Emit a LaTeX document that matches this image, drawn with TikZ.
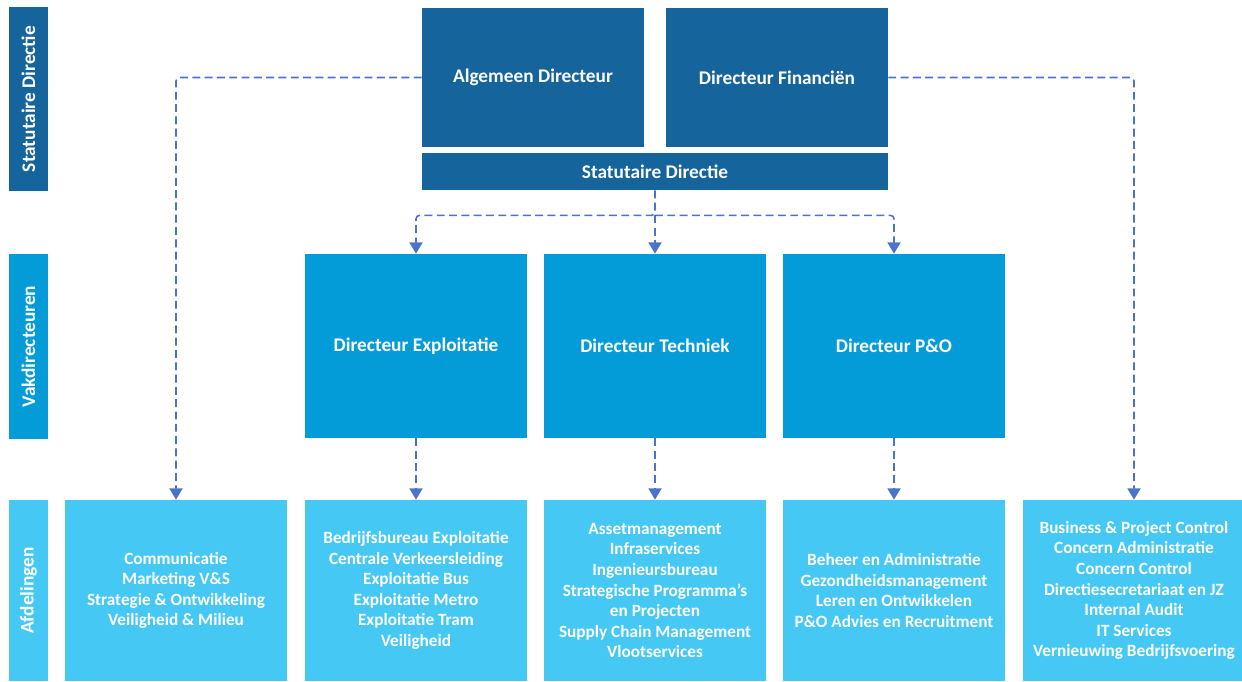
\documentclass[tikz,border=0pt]{standalone}
\usepackage{fontspec}
\setmainfont{Carlito}
\usetikzlibrary{arrows.meta,calc}
\definecolor{statblue}{HTML}{15649B}
\definecolor{vakblue}{HTML}{049CD8}
\definecolor{afdblue}{HTML}{46C8F5}
\definecolor{link}{HTML}{4A74C9}
\tikzset{
  >={Triangle[length=6.5pt,width=7.5pt]},
  box/.style={draw=none, text=white, font=\bfseries\fontsize{11}{13.4}\selectfont,
    align=center, inner sep=0pt, minimum width=4.44cm},
  statbox/.style={box, fill=statblue},
  vakbox/.style={box, fill=vakblue, minimum height=3.68cm},
  afdbox/.style={box, fill=afdblue, minimum height=3.62cm,
    font=\bfseries\fontsize{9.8}{11.7}\selectfont},
  side/.style={box, rotate=90, minimum width=0pt, minimum height=0.78cm},
  conn/.style={->, link, line width=0.9pt, dash pattern=on 4.5pt off 2.5pt, rounded corners=2pt},
}
\begin{document}
\begin{tikzpicture}[x=0.02cm, y=-0.02cm]
\useasboundingbox (0,0) rectangle (1242,681);

% ---------------- row labels ----------------
\node[side, fill=statblue, minimum width=3.68cm] (lblstat) at (28.5,99) {Statutaire Directie};
\node[side, fill=vakblue, minimum width=3.70cm] (lblvak) at (28.5,346.5) {Vakdirecteuren};
\node[side, fill=afdblue, minimum width=3.62cm] (lblafd) at (28.5,590.5) {Afdelingen};

% ---------------- statutaire directie ----------------
\node[statbox, minimum height=2.78cm] (algdir) at (533,77.5) {Algemeen Directeur};
\node[statbox, minimum height=2.78cm] (findir) at (777,77.5) {Directeur Financiën};
\node[statbox, minimum width=9.32cm, minimum height=0.74cm] (statdir) at (655,171.5) {Statutaire Directie};

% ---------------- vakdirecteuren ----------------
\node[vakbox] (direxpl) at (416,346) {Directeur Exploitatie};
\node[vakbox] (dirtech) at (655,346) {Directeur Techniek};
\node[vakbox] (dirpo)   at (894,346) {Directeur P\&O};

% ---------------- afdelingen ----------------
\node[afdbox] (afdcomm) at (176,590.5) {Communicatie\\Marketing V\&S\\Strategie \& Ontwikkeling\\Veiligheid \& Milieu};
\node[afdbox] (afdexpl) at (416,590.5) {Bedrijfsbureau Exploitatie\\Centrale Verkeersleiding\\Exploitatie Bus\\Exploitatie Metro\\Exploitatie Tram\\Veiligheid};
\node[afdbox] (afdtech) at (655,590.5) {Assetmanagement\\Infraservices\\Ingenieursbureau\\Strategische Programma’s\\en Projecten\\Supply Chain Management\\Vlootservices};
\node[afdbox] (afdpo)   at (894,590.5) {Beheer en Administratie\\Gezondheidsmanagement\\Leren en Ontwikkelen\\P\&O Advies en Recruitment};
\node[afdbox] (afdfin)  at (1134,590.5) {Business \& Project Control\\Concern Administratie\\Concern Control\\Directiesecretariaat en JZ\\Internal Audit\\IT Services\\Vernieuwing Bedrijfsvoering};

% ---------------- connectors ----------------
\draw[conn] (algdir.west) -| (afdcomm.north);
\draw[conn] (findir.east) -| (afdfin.north);
\coordinate (split) at ($(statdir.south)+(0,25)$);
\draw[conn] (statdir.south) -- (split) -| (direxpl.north);
\draw[conn] (split) -| (dirpo.north);
\draw[conn] (split) -- (dirtech.north);
\foreach \d/\a in {direxpl/afdexpl, dirtech/afdtech, dirpo/afdpo}
  \draw[conn] (\d.south) -- (\a.north);

\end{tikzpicture}
\end{document}
